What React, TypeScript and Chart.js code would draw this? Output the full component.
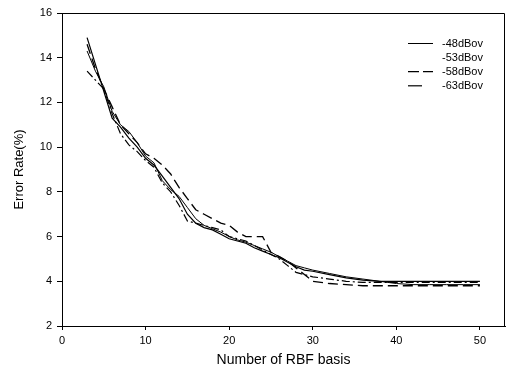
import React, { useEffect, useRef } from "react";
import { Chart, registerables } from "chart.js";

Chart.register(...registerables);

const xValues = [3, 4, 5, 6, 7, 8, 9, 10, 11, 12, 13, 14, 15, 16, 17, 18, 19, 20, 21, 22, 23, 24, 25, 26, 27, 28, 29, 30, 32, 34, 36, 38, 40, 42, 44, 46, 48, 50];

const s48 = [14.3, 13.4, 12.7, 11.6, 11.0, 10.7, 10.2, 9.6, 9.3, 8.5, 8.1, 7.8, 7.3, 6.8, 6.5, 6.35, 6.2, 6.0, 5.85, 5.75, 5.6, 5.45, 5.3, 5.1, 4.9, 4.7, 4.6, 4.5, 4.35, 4.2, 4.1, 4.0, 3.9, 3.85, 3.85, 3.85, 3.85, 3.85];
const s53 = [14.9, 13.7, 12.5, 11.3, 10.9, 10.4, 10.0, 9.5, 9.2, 8.7, 8.2, 7.7, 7.0, 6.6, 6.4, 6.3, 6.1, 5.9, 5.8, 5.7, 5.5, 5.35, 5.2, 5.05, 4.85, 4.65, 4.5, 4.45, 4.3, 4.15, 4.05, 4.0, 4.0, 4.0, 4.0, 4.0, 4.0, 4.0];
const s58 = [14.6, 13.5, 12.6, 11.8, 11.0, 10.6, 10.2, 9.7, 9.5, 9.2, 8.8, 8.2, 7.7, 7.2, 7.0, 6.8, 6.6, 6.5, 6.2, 6.0, 6.0, 6.0, 5.3, 5.1, 4.9, 4.6, 4.3, 4.0, 3.9, 3.85, 3.8, 3.8, 3.8, 3.8, 3.8, 3.8, 3.8, 3.8];
const s63 = [13.4, 13.0, 12.6, 11.5, 10.6, 10.1, 9.8, 9.4, 9.1, 8.4, 8.0, 7.4, 6.7, 6.6, 6.5, 6.4, 6.3, 6.0, 5.9, 5.8, 5.6, 5.4, 5.2, 5.0, 4.7, 4.4, 4.3, 4.2, 4.1, 4.0, 3.95, 3.95, 3.95, 3.95, 3.95, 3.95, 3.95, 3.95];

const seriesLabels = ["-48dBov", "-53dBov", "-58dBov", "-63dBov"];
const seriesValues = [s48, s53, s58, s63];
const seriesDash: number[][] = [[], [], [10, 5], [8, 3, 2, 3]];
const seriesWidth = [1, 1.2, 1.3, 1.2];
const legendDash: number[][] = [[], [], [11, 4], [14, 20]];
const legendShow = [true, false, true, true];

const xTitle = "Number of RBF basis";
const yTitle = "Error Rate(%)";

const FONT = "'Liberation Sans', Arial, sans-serif";

const framePlugin = {
  id: "frameLegend",
  afterDraw(chart: any) {
    const { ctx, chartArea } = chart;
    ctx.save();
    ctx.strokeStyle = "#000";
    ctx.lineWidth = 1;
    ctx.beginPath();
    ctx.moveTo(chartArea.left, chartArea.top + 0.5);
    ctx.lineTo(chartArea.right - 0.5, chartArea.top + 0.5);
    ctx.lineTo(chartArea.right - 0.5, chartArea.bottom);
    ctx.stroke();

    // legend
    const lx0 = chartArea.right - 97;
    const lx1 = chartArea.right - 72;
    const tx = chartArea.right - 63;
    ctx.font = `11px ${FONT}`;
    ctx.fillStyle = "#000";
    ctx.textBaseline = "middle";
    seriesLabels.forEach((lab, i) => {
      const y = chartArea.top + 30.5 + i * 14.1;
      if (legendShow[i]) {
        ctx.beginPath();
        ctx.setLineDash(legendDash[i]);
        ctx.lineWidth = seriesWidth[i];
        ctx.moveTo(lx0, y);
        ctx.lineTo(lx1, y);
        ctx.stroke();
        ctx.setLineDash([]);
      }
      ctx.fillText(lab, tx, y);
    });
    ctx.restore();
  },
};

export default function App() {
  const ref = useRef<HTMLCanvasElement>(null);
  useEffect(() => {
    document.body.style.margin = "0";
    Chart.defaults.color = "#000";
    Chart.defaults.font.family = FONT;
    const chart = new Chart(ref.current!, {
      type: "line",
      data: {
        datasets: seriesValues.map((vals, i) => ({
          label: seriesLabels[i],
          data: vals.map((v, j) => ({ x: xValues[j], y: v })),
          borderColor: "#000",
          borderWidth: seriesWidth[i],
          borderDash: seriesDash[i],
          pointRadius: 0,
          fill: false,
          tension: 0,
        })),
      },
      options: {
        animation: false,
        responsive: false,
        layout: { padding: { top: 13, right: 2, left: 0, bottom: 0 } },
        plugins: { legend: { display: false }, tooltip: { enabled: false } },
        scales: {
          x: {
            type: "linear",
            min: 0,
            max: 53,
            afterBuildTicks: (s: any) => {
              s.ticks = s.ticks.filter((t: any) => t.value % 10 === 0);
            },
            afterFit: (s: any) => {
              s.height = 52;
            },
            ticks: { stepSize: 10, font: { size: 11 }, padding: 4, maxRotation: 0 },
            grid: { drawOnChartArea: false, tickLength: 4, color: "#000" },
            border: { color: "#000", width: 1 },
            title: { display: true, text: xTitle, font: { size: 14 }, padding: { top: 4, bottom: 9 } },
          },
          y: {
            min: 2,
            max: 16,
            afterFit: (s: any) => {
              s.width = 62;
            },
            ticks: { stepSize: 2, font: { size: 11 }, padding: 5 },
            grid: { drawOnChartArea: false, tickLength: 5, color: "#000" },
            border: { color: "#000", width: 1 },
            title: { display: true, text: yTitle, font: { size: 13 }, padding: { top: 12, bottom: 4 } },
          },
        },
      },
      plugins: [framePlugin],
    });
    return () => chart.destroy();
  }, []);
  return <canvas ref={ref} width={507} height={378} style={{ display: "block" }} />;
}
